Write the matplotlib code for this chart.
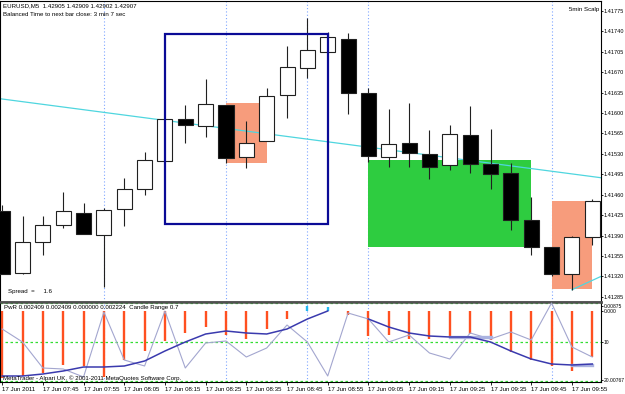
import numpy as np
import matplotlib
matplotlib.use("Agg")
import matplotlib.pyplot as plt
from matplotlib.patches import Rectangle

# 5 minute bars, 17 Jun 2011
times = ["07:35", "07:40", "07:45", "07:50", "07:55", "08:00", "08:05", "08:10",
         "08:15", "08:20", "08:25", "08:30", "08:35", "08:40", "08:45", "08:50",
         "08:55", "09:00", "09:05", "09:10", "09:15", "09:20", "09:25", "09:30",
         "09:35", "09:40", "09:45", "09:50", "09:55", "10:00"]

opens = [1.41432, 1.41326, 1.41378, 1.41408, 1.41429, 1.41391, 1.41436, 1.41470,
         1.41518, 1.41590, 1.41578, 1.41614, 1.41525, 1.41552, 1.41631, 1.41677,
         1.41705, 1.41727, 1.41635, 1.41525, 1.41549, 1.41530, 1.41511, 1.41562,
         1.41513, 1.41497, 1.41417, 1.41371, 1.41324, 1.41388]
highs = [1.41443, 1.41424, 1.41424, 1.41465, 1.41446, 1.41437, 1.41488, 1.41533,
         1.41590, 1.41614, 1.41658, 1.41614, 1.41587, 1.41643, 1.41715, 1.41763,
         1.41739, 1.41737, 1.41643, 1.41607, 1.41617, 1.41571, 1.41580, 1.41612,
         1.41573, 1.41515, 1.41456, 1.41371, 1.41390, 1.41453]
lows = [1.41324, 1.41324, 1.41357, 1.41402, 1.41393, 1.41302, 1.41407, 1.41460,
        1.41518, 1.41549, 1.41559, 1.41515, 1.41506, 1.41552, 1.41592, 1.41660,
        1.41705, 1.41599, 1.41516, 1.41508, 1.41508, 1.41487, 1.41503, 1.41497,
        1.41470, 1.41400, 1.41357, 1.41321, 1.41297, 1.41374]
closes = [1.41324, 1.41379, 1.41408, 1.41432, 1.41393, 1.41434, 1.41470, 1.41520,
          1.41590, 1.41580, 1.41616, 1.41523, 1.41549, 1.41629, 1.41679, 1.41708,
          1.41730, 1.41635, 1.41527, 1.41547, 1.41532, 1.41508, 1.41564, 1.41513,
          1.41496, 1.41417, 1.41371, 1.41324, 1.41388, 1.41449]

price_ticks = [1.41775, 1.41740, 1.41705, 1.41670, 1.41635, 1.41600, 1.41565, 1.41530,
               1.41495, 1.41460, 1.41425, 1.41390, 1.41355, 1.41320, 1.41285]

# chart objects (bar index, price)
blue_box = (8, 16, 1.41410, 1.41736)
salmon_boxes = [(11, 13, 1.41515, 1.41617), (27, 29, 1.41299, 1.41449)]
green_box = (18, 26, 1.41371, 1.41520)
trend1 = [(0, 1.41624), (29, 1.41491)]
trend2 = [(28, 1.41297), (29.5, 1.41321)]
separators = [5, 11, 15, 18, 27]

# lower indicator window (window units)
pwr_base = 71
pwr = [4, 6, 9, 17, 16, 5, 22, 31, 41, 49, 55, 47, 43, 53, 63, 76, 75, 67, 46, 47,
       43, 43, 45, 48, 42, 30, 22, 16, 11, 25]
ma = [6, 6, 8, 11, 15, 15, 16, 21, 31, 40, 48, 51, 49, 48, 53, 63, 71, np.nan, 63, 55,
      49, 46, 45, 45, 40, 31, 23, 18, 17, 18]
flat = [np.nan] * 22 + [45, 45, 45, np.nan, np.nan, np.nan, 17, 17]
zigzag = [53, 40, 14, 13, 5, 70, 22, 16, 71, 14, 39, 41, 25, 34, 57, 40, 6, 69, 63, 40,
          47, 29, 23, 49, 43, 50, 42, 79, 35, 25]
levels = [79, 40, 1]

FONT = "Liberation Sans"
FS = 4.4
FS_AX = 4.0
W, H = 625, 394

fig = plt.figure(figsize=(W / 100, H / 100), dpi=100)
ax = fig.add_axes([0, 1 - 302 / H, 601 / W, 301 / H])
ax2 = fig.add_axes([0, 1 - 382 / H, 601 / W, 80 / H])

x = np.arange(len(times))
xlim = (-0.106, 29.43)

# --- main price window ---
for s in separators:
    ax.axvline(s, color="#7fa6ff", lw=0.8, ls=(0, (1, 2)), zorder=1)

for (a, b, lo, hi) in salmon_boxes:
    ax.add_patch(Rectangle((a, lo), b - a, hi - lo, facecolor="#f79c7c",
                           edgecolor="none", zorder=1.5))
a, b, lo, hi = green_box
ax.add_patch(Rectangle((a, lo), b - a, hi - lo, facecolor="#2ecc40",
                       edgecolor="none", zorder=1.5))

ax.axline(trend1[0], trend1[1], color="#4fd6df", lw=0.9, zorder=2)
ax.plot([p[0] for p in trend2], [p[1] for p in trend2], color="#4fd6df", lw=0.9, zorder=2)

for i in x:
    o, h, l, c = opens[i], highs[i], lows[i], closes[i]
    ax.vlines(i, l, h, color="#202020", lw=0.8, zorder=3)
    fc = "white" if c >= o else "black"
    ax.add_patch(Rectangle((i - 0.37, min(o, c)), 0.74, max(abs(c - o), 0.00001),
                           facecolor=fc, edgecolor="#202020", lw=0.8, zorder=4))

a, b, lo, hi = blue_box
ax.add_patch(Rectangle((a, lo), b - a, hi - lo, facecolor="none",
                       edgecolor="#0a0a96", lw=1.6, zorder=5))

ax.set_xlim(*xlim)
ax.set_ylim(1.41276, 1.41792)
ax.set_xticks([])
ax.yaxis.tick_right()
ax.set_yticks(price_ticks)
ax.set_yticklabels(["%.5f" % p for p in price_ticks], fontsize=FS_AX, family=FONT)
ax.tick_params(axis="y", length=1.5, width=0.6, pad=0.6)
for sp in ax.spines.values():
    sp.set_linewidth(0.8)
ax.spines["bottom"].set_linewidth(1.8)
ax.spines["bottom"].set_color("#505050")

# --- lower indicator window ---
for s in separators:
    ax2.axvline(s, color="#7fa6ff", lw=0.8, ls=(0, (1, 2)), zorder=1)
for lv in levels:
    ax2.axhline(lv, color="#33dd33", lw=0.9, ls=(0, (2, 2)), zorder=1)

bar_cols = ["#22b8f0" if v > pwr_base else "#ff5020" for v in pwr]
ax2.vlines(x, pwr_base, pwr, colors=bar_cols, lw=1.7, zorder=2)
ax2.plot(x, zigzag, color="#a3a6cf", lw=0.8, zorder=3)
ax2.plot(x, flat, color="#aab2e0", lw=2.4, zorder=3)
ax2.plot(x, ma, color="#3a3aae", lw=1.1, zorder=4)

ax2.set_xlim(*xlim)
ax2.set_ylim(0, 80)
ax2.yaxis.tick_right()
ax2.set_yticks([76, 71, 40, 2])
ax2.set_yticklabels(["0.00875", "0.000", "10", "20.00767"], fontsize=3.6, family=FONT)
ax2.tick_params(axis="y", length=1.5, width=0.6, pad=0.6)

tick_idx = list(range(0, 30, 2))
ax2.set_xticks(tick_idx)
ax2.set_xticklabels(["17 Jun 2011" if i == 0 else "17 Jun " + times[i] for i in tick_idx],
                    fontsize=FS, family=FONT, ha="left")
ax2.tick_params(axis="x", length=2, width=0.6, pad=1.5)
for sp in ax2.spines.values():
    sp.set_linewidth(0.8)
ax2.spines["top"].set_linewidth(1.8)
ax2.spines["top"].set_color("#505050")

# --- labels ---
def ftext(px, py, s, **kw):
    fig.text(px / W, 1 - py / H, s, fontsize=FS, family=FONT, va="center", **kw)

ftext(3, 6, "EURUSD,M5  1.42905 1.42909 1.42902 1.42907")
ftext(3, 14, "Balanced Time to next bar close: 3 min 7 sec")
ftext(569, 10, "5min Scalp")
ftext(8, 291, "Spread  =     1.6")
ftext(4, 308, "PwR 0.002409 0.002409 0.000000 0.002224  Candle Range 0.7")
ftext(3, 378, "MetaTrader - Alpari UK, \u00a9 2001-2011 MetaQuotes Software Corp.")

fig.savefig("out.png", dpi=100, facecolor="white")
